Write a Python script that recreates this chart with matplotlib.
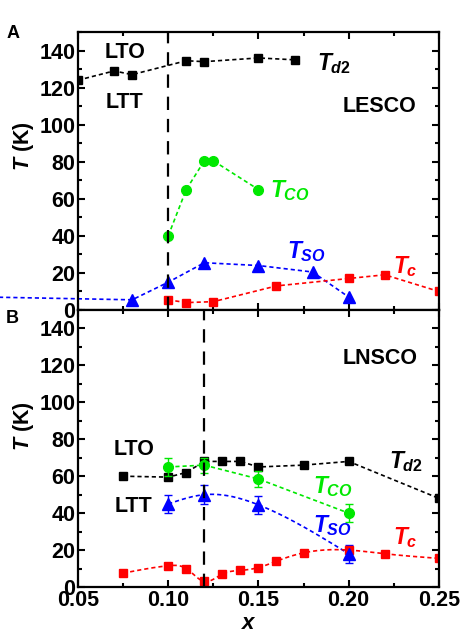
import numpy as np
import matplotlib
matplotlib.use('Agg')
import matplotlib.pyplot as plt
from matplotlib.ticker import MultipleLocator

# ---- panel A : LESCO ----
a_td2_x = [0.05, 0.07, 0.08, 0.11, 0.12, 0.15, 0.17]
a_td2 = [124, 129, 127, 134.5, 134, 136, 135]
a_tco_x = [0.10, 0.11, 0.12, 0.125, 0.15]
a_tco = [40, 65, 80.5, 80.5, 65]
a_tso_x = [0.0, 0.08, 0.10, 0.12, 0.15, 0.18, 0.20]
a_tso = [7, 5.5, 15, 25.5, 24, 20.5, 7]
a_tc_x = [0.10, 0.11, 0.125, 0.16, 0.20, 0.22, 0.25]
a_tc = [5.5, 4, 4.5, 13, 17, 19, 10]

# ---- panel B : LNSCO ----
b_td2_x = [0.075, 0.10, 0.11, 0.12, 0.13, 0.14, 0.15, 0.175, 0.20, 0.25]
b_td2 = [60, 59.5, 62, 68, 68, 68, 65, 66, 68, 48]
b_tco_x = [0.10, 0.12, 0.15, 0.20]
b_tco = [65, 66, 58.5, 40]
b_tco_err = [5, 4, 4.5, 5]
b_tso_x = [0.10, 0.12, 0.15, 0.20]
b_tso = [45, 50, 44.5, 18]
b_tso_err = [5, 5, 5, 5]
b_tc_x = [0.075, 0.10, 0.11, 0.12, 0.13, 0.14, 0.15, 0.16, 0.175, 0.20, 0.22, 0.25]
b_tc = [7.5, 11.5, 10, 3, 7, 9, 10.5, 14, 18.5, 20, 18, 15.5]

x_ticks = [0.05, 0.10, 0.15, 0.20, 0.25]
x_ticklabels = ['0.05', '0.10', '0.15', '0.20', '0.25']

GREEN = '#00e800'
BLUE = '#0000ff'
RED = '#ff0000'

plt.rcParams['font.family'] = ['Liberation Sans', 'DejaVu Sans']
plt.rcParams['font.weight'] = 'bold'
plt.rcParams['mathtext.fontset'] = 'custom'
plt.rcParams['mathtext.it'] = 'Liberation Sans:italic:bold'
plt.rcParams['mathtext.rm'] = 'Liberation Sans:bold'
plt.rcParams['mathtext.bf'] = 'Liberation Sans:bold'


def spline(x, y, n=300):
    # natural cubic spline, only used to draw the smooth guide line
    x = np.asarray(x, float)
    y = np.asarray(y, float)
    h = np.diff(x)
    m = len(x)
    A = np.zeros((m, m))
    r = np.zeros(m)
    A[0, 0] = A[-1, -1] = 1
    for i in range(1, m - 1):
        A[i, i - 1] = h[i - 1]
        A[i, i] = 2 * (h[i - 1] + h[i])
        A[i, i + 1] = h[i]
        r[i] = 6 * ((y[i + 1] - y[i]) / h[i] - (y[i] - y[i - 1]) / h[i - 1])
    M = np.linalg.solve(A, r)
    xs = np.linspace(x[0], x[-1], n)
    k = np.clip(np.searchsorted(x, xs) - 1, 0, m - 2)
    t0 = xs - x[k]
    t1 = x[k + 1] - xs
    hk = h[k]
    ys = (M[k] * t1**3 + M[k + 1] * t0**3) / (6 * hk) \
        + (y[k] / hk - M[k] * hk / 6) * t1 + (y[k + 1] / hk - M[k + 1] * hk / 6) * t0
    return xs, ys


LS = dict(linestyle=(0, (2.5, 1.8)), linewidth=1.2)

fig = plt.figure(figsize=(4.62, 6.35), dpi=100)
axA = fig.add_axes([0.1688, 0.5118, 0.7812, 0.4378])
axB = fig.add_axes([0.1688, 0.0756, 0.7812, 0.4362])

# panel A
axA.plot(a_td2_x, a_td2, color='k', marker='s', ms=6, **LS)
axA.plot(a_tco_x, a_tco, color=GREEN, marker='o', ms=7, **LS)
axA.plot(a_tso_x, a_tso, color=BLUE, marker='^', ms=8, clip_on=False, **LS)
axA.plot(a_tc_x, a_tc, color=RED, marker='s', ms=6, **LS)
axA.axvline(0.10, color='k', lw=1.6, linestyle=(0, (6, 4)), zorder=5)

# panel B
axB.plot(b_td2_x, b_td2, color='k', marker='s', ms=6, **LS)
axB.errorbar(b_tco_x, b_tco, yerr=b_tco_err, color=GREEN, marker='o', ms=7,
             capsize=3, elinewidth=1, **LS)
xs, ys = spline(b_tso_x, b_tso)
axB.plot(xs, ys, color=BLUE, **LS)
axB.errorbar(b_tso_x, b_tso, yerr=b_tso_err, color=BLUE, marker='^', ms=8,
             capsize=3, elinewidth=1, linestyle='none')
xs, ys = spline(b_tc_x, b_tc)
axB.plot(xs, ys, color=RED, **LS)
axB.plot(b_tc_x, b_tc, color=RED, marker='s', ms=6, linestyle='none')
axB.axvline(0.12, color='k', lw=1.6, linestyle=(0, (6, 4)), zorder=5)

for ax in (axA, axB):
    ax.set_xlim(0.05, 0.25)
    ax.set_ylim(0, 150)
    ax.xaxis.set_major_locator(MultipleLocator(0.05))
    ax.xaxis.set_minor_locator(MultipleLocator(0.025))
    ax.yaxis.set_major_locator(MultipleLocator(20))
    ax.yaxis.set_minor_locator(MultipleLocator(10))
    ax.tick_params(which='both', direction='in', top=True, right=True, width=1.5)
    ax.tick_params(which='major', length=5, labelsize=15.5, pad=2)
    ax.tick_params(which='minor', length=3)
    for s in ax.spines.values():
        s.set_linewidth(1.6)
    ax.set_ylabel(r'$T$ (K)', fontsize=15.5, fontweight='bold')
    ax.set_yticks([0, 20, 40, 60, 80, 100, 120, 140])
    ax.set_yticklabels(['0', '20', '40', '60', '80', '100', '120', '140'], fontweight='bold')

axA.set_xticks(x_ticks)
axA.tick_params(axis='x', labelbottom=False)
axB.set_xticks(x_ticks)
axB.set_xticklabels(x_ticklabels, fontweight='bold')
axB.set_xlabel(r'$x$', fontsize=16)
axB.xaxis.set_label_coords(0.474, -0.095)
axA.yaxis.set_label_coords(-0.115, 0.59)
axB.yaxis.set_label_coords(-0.115, 0.58)

fs = 15.5
axA.text(0.076, 139.2, 'LTO', fontsize=fs, ha='center', va='center')
axA.text(0.0755, 112.2, 'LTT', fontsize=fs, ha='center', va='center')
axA.text(0.2173, 110, 'LESCO', fontsize=fs, ha='center', va='center')
axA.text(0.1824, 132.8, r'$T_{\mathit{d2}}$', fontsize=16.5, color='k', va='center')
axA.text(0.1564, 64.2, r'$T_{\mathit{CO}}$', fontsize=16.5, color=GREEN, va='center')
axA.text(0.1658, 31.8, r'$T_{\mathit{SO}}$', fontsize=16.5, color=BLUE, va='center')
axA.text(0.2245, 23.7, r'$T_{\mathit{c}}$', fontsize=16.5, color=RED, va='center')

axB.text(0.081, 74.6, 'LTO', fontsize=fs, ha='center', va='center')
axB.text(0.0805, 43.8, 'LTT', fontsize=fs, ha='center', va='center')
axB.text(0.2173, 123.8, 'LNSCO', fontsize=fs, ha='center', va='center')
axB.text(0.2223, 68.1, r'$T_{\mathit{d2}}$', fontsize=16.5, color='k', va='center')
axB.text(0.1802, 54.6, r'$T_{\mathit{CO}}$', fontsize=16.5, color=GREEN, va='center')
axB.text(0.1802, 33.5, r'$T_{\mathit{SO}}$', fontsize=16.5, color=BLUE, va='center')
axB.text(0.2245, 27, r'$T_{\mathit{c}}$', fontsize=16.5, color=RED, va='center')

fig.text(0.028, 0.948, 'A', fontsize=13, ha='center', va='center')
fig.text(0.026, 0.499, 'B', fontsize=13, ha='center', va='center')

fig.savefig('out.png', dpi=100)
